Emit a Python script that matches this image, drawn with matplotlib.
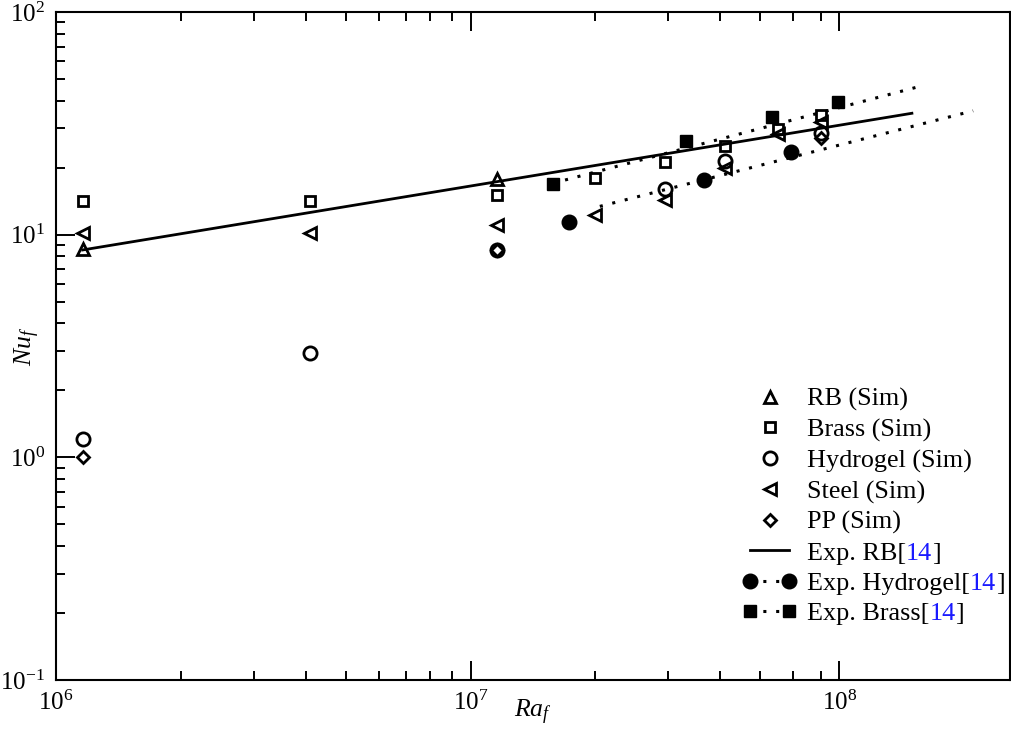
import matplotlib
matplotlib.use('Agg')
import matplotlib.pyplot as plt
from matplotlib.lines import Line2D
from matplotlib.legend_handler import HandlerLine2D
from matplotlib.ticker import FixedLocator, FixedFormatter, NullFormatter

plt.rcParams['font.family'] = ['Liberation Serif', 'DejaVu Serif']
plt.rcParams['mathtext.fontset'] = 'custom'
plt.rcParams['mathtext.rm'] = 'Liberation Serif'
plt.rcParams['mathtext.it'] = 'Liberation Serif:italic'
plt.rcParams['font.size'] = 18

# ---------------------- DATA ----------------------
# simulations (Ra_f, Nu_f)
rb_ra = [1.16e6, 1.16e7]
rb_nu = [8.6, 17.7]

brass_ra = [1.16e6, 4.1e6, 1.16e7, 2.0e7, 2.95e7, 4.1e7, 5.5e7, 7.0e7]
brass_nu = [14.1, 14.1, 15.1, 17.9, 21.3, 25.1, 29.7, 34.5]

hydro_ra = [1.16e6, 4.1e6, 1.16e7, 2.95e7, 4.1e7, 7.0e7]
hydro_nu = [1.21, 2.93, 8.5, 16.0, 21.4, 28.5]

steel_ra = [1.16e6, 4.1e6, 1.16e7, 2.0e7, 2.95e7, 4.1e7, 5.5e7, 7.0e7]
steel_nu = [10.2, 10.2, 11.1, 12.3, 14.3, 19.9, 28.2, 32.2]

pp_ra = [1.16e6, 1.16e7, 7.0e7]
pp_nu = [1.0, 8.5, 27.1]

# experiments [14]
exp_rb_ra = [1.16e6, 1.16e8]
exp_rb_nu = [8.54, 35.1]

exp_hydro_ra = [1.73e7, 3.65e7, 5.93e7]
exp_hydro_nu = [11.4, 17.6, 23.4]
hydro_fit_ra = [2.05e7, 1.63e8]
hydro_fit_nu = [13.4, 36.0]

exp_brass_ra = [1.58e7, 3.31e7, 5.33e7, 7.7e7]
exp_brass_nu = [16.9, 26.4, 33.9, 39.6]
brass_fit_ra = [1.69e7, 1.22e8]
brass_fit_nu = [17.6, 46.5]

# axis ticks (the bottom "10^8" tick sits where the original figure drew it)
x_major = [1e6, 1e7, 7.75e7]
x_major_labels = [r'$10^{6}$', r'$10^{7}$', r'$10^{8}$']
x_minor = [k * 1e6 for k in range(2, 10)] + [k * 1e7 for k in range(2, 8)]

sim_labels = ['RB (Sim)', 'Brass (Sim)', 'Hydrogel (Sim)', 'Steel (Sim)', 'PP (Sim)']
exp_labels = ['Exp. RB[', 'Exp. Hydrogel[', 'Exp. Brass[']
ref_label = '14'

# ---------------------- PLOT ----------------------
fig = plt.figure(figsize=(10.12, 7.29), dpi=100)
ax = fig.add_axes([0.0553, 0.0672, 0.9427, 0.9163])

dot = (0, (1, 3.2))
ax.plot(exp_rb_ra, exp_rb_nu, color='k', lw=2)
ax.plot(hydro_fit_ra, hydro_fit_nu, color='k', lw=2.2, ls=dot)
ax.plot(brass_fit_ra, brass_fit_nu, color='k', lw=2.2, ls=dot)

ax.plot(exp_hydro_ra, exp_hydro_nu, 'o', color='k', ms=10.5)
ax.plot(exp_brass_ra, exp_brass_nu, 's', color='k', ms=9)

open_kw = dict(ls='none', mfc='none', mec='k', mew=2.0)
h_rb, = ax.plot(rb_ra, rb_nu, marker='^', ms=9, **open_kw)
h_brass, = ax.plot(brass_ra, brass_nu, marker='s', ms=7.8, **open_kw)
h_hydro, = ax.plot(hydro_ra, hydro_nu, marker='o', ms=9.5, **open_kw)
h_steel, = ax.plot(steel_ra, steel_nu, marker='<', ms=9, **open_kw)
h_pp, = ax.plot(pp_ra, pp_nu, marker='D', ms=6.5, **open_kw)

ax.set_xscale('log')
ax.set_yscale('log')
ax.set_xlim(1e6, 2e8)
ax.set_ylim(0.1, 100)

ax.xaxis.set_major_locator(FixedLocator(x_major))
ax.xaxis.set_major_formatter(FixedFormatter(x_major_labels))
ax.xaxis.set_minor_locator(FixedLocator(x_minor))
ax.xaxis.set_minor_formatter(NullFormatter())

ax.tick_params(which='both', direction='in', width=1.4, top=True, right=False)
ax.tick_params(which='major', length=13.5, pad=8, labelsize=18)
ax.tick_params(which='minor', length=6.7)
for s in ax.spines.values():
    s.set_linewidth(1.5)

ax.set_xlabel(r'$Ra_f$', fontsize=18.5)
ax.xaxis.set_label_coords(0.5, -0.027)
ax.set_ylabel(r'$Nu_f$', fontsize=18.5)
ax.yaxis.set_label_coords(-0.015, 0.5)

# legend
h_exp_rb = Line2D([], [], color='k', lw=2)
h_exp_hydro = Line2D([], [], color='k', lw=2.2, ls=dot, marker='o', ms=10.5)
h_exp_brass = Line2D([], [], color='k', lw=2.2, ls=dot, marker='s', ms=9)
handles = [h_rb, h_brass, h_hydro, h_steel, h_pp, h_exp_rb, h_exp_hydro, h_exp_brass]
two = HandlerLine2D(numpoints=2, marker_pad=0)
leg_fs = 18.8
leg = ax.legend(handles, sim_labels + exp_labels, loc='lower left',
                bbox_to_anchor=(0.7275, 0.082), frameon=False, fontsize=leg_fs,
                borderpad=0, borderaxespad=0, handlelength=1.5,
                handletextpad=0.68, labelspacing=0.27,
                handler_map={h_exp_hydro: two, h_exp_brass: two})

for txt in leg.get_texts()[5:]:
    ref = ax.annotate(ref_label, xy=(1, 0), xycoords=txt, va='bottom',
                      color='#1a1aff', fontsize=leg_fs, zorder=6)
    ax.annotate(']', xy=(1, 0), xycoords=ref, va='bottom', fontsize=leg_fs, zorder=6)

fig.savefig('out.png', dpi=100)
